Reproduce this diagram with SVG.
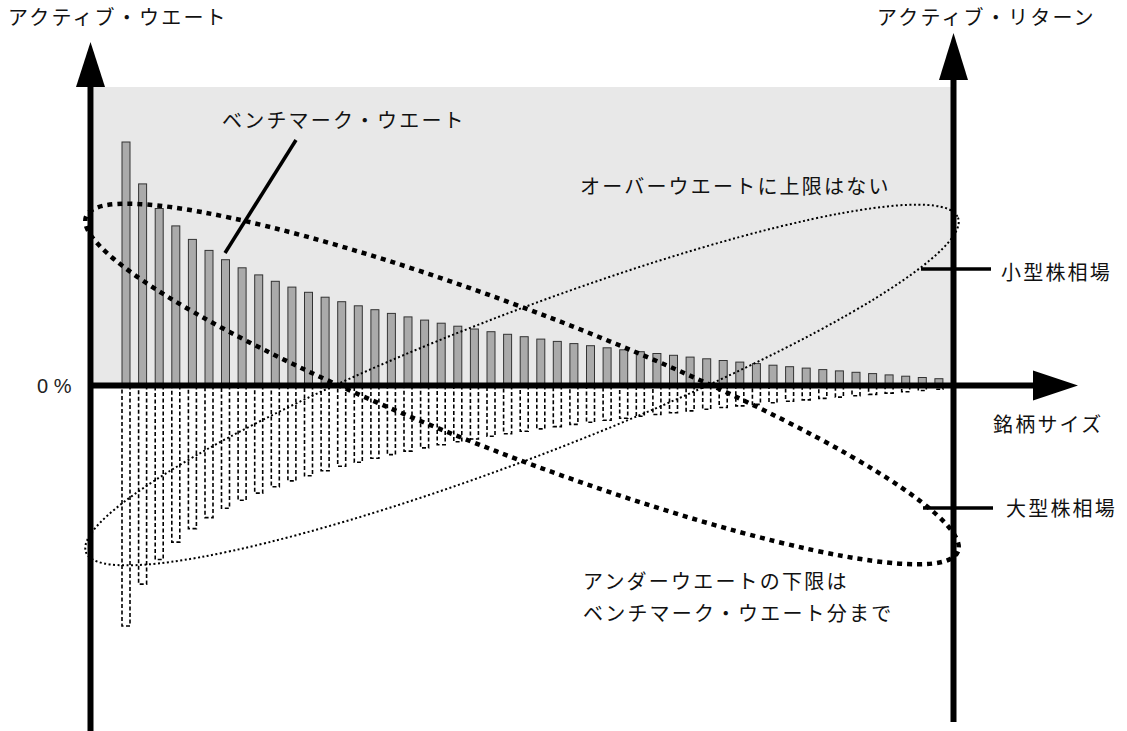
<svg xmlns="http://www.w3.org/2000/svg" width="1127" height="731" viewBox="0 0 1127 731">
<style>
.t{font-family:"Noto Sans CJK JP","Noto Sans",sans-serif;font-size:20px;letter-spacing:2.2px;fill:#111}
.up{fill:#aaa;stroke:#333;stroke-width:1}
.dn{fill:#fff;stroke:#000;stroke-width:1.6;stroke-dasharray:4 2.5}
.ax{stroke:#000;stroke-width:6;fill:none}
.ld{stroke:#000;stroke-width:3.5;fill:none}
.thick{fill:none;stroke:#000;stroke-width:4.5;stroke-dasharray:5 5}
.thin{fill:none;stroke:#000;stroke-width:2;stroke-dasharray:2 2.5}
</style>
<rect width="1127" height="731" fill="#fff"/>
<g id="background"><rect x="94" y="87" width="857" height="297" fill="#e8e8e8"/></g>
<g id="bars-up">
<rect class="up" x="122" y="142" width="8" height="242"/>
<rect class="up" x="138.6" y="183.9" width="8" height="200.1"/>
<rect class="up" x="155.2" y="208.5" width="8" height="175.5"/>
<rect class="up" x="171.8" y="225.9" width="8" height="158.1"/>
<rect class="up" x="188.4" y="239.4" width="8" height="144.6"/>
<rect class="up" x="205" y="250.4" width="8" height="133.6"/>
<rect class="up" x="221.5" y="259.7" width="8" height="124.3"/>
<rect class="up" x="238.1" y="267.8" width="8" height="116.2"/>
<rect class="up" x="254.7" y="274.9" width="8" height="109.1"/>
<rect class="up" x="271.3" y="281.3" width="8" height="102.7"/>
<rect class="up" x="287.9" y="287.1" width="8" height="96.9"/>
<rect class="up" x="304.5" y="292.3" width="8" height="91.7"/>
<rect class="up" x="321.1" y="297.2" width="8" height="86.8"/>
<rect class="up" x="337.7" y="301.7" width="8" height="82.3"/>
<rect class="up" x="354.3" y="305.8" width="8" height="78.2"/>
<rect class="up" x="370.9" y="309.7" width="8" height="74.3"/>
<rect class="up" x="387.4" y="313.4" width="8" height="70.6"/>
<rect class="up" x="404" y="316.9" width="8" height="67.1"/>
<rect class="up" x="420.6" y="320.1" width="8" height="63.9"/>
<rect class="up" x="437.2" y="323.2" width="8" height="60.8"/>
<rect class="up" x="453.8" y="326.2" width="8" height="57.8"/>
<rect class="up" x="470.4" y="329" width="8" height="55"/>
<rect class="up" x="487" y="331.7" width="8" height="52.3"/>
<rect class="up" x="503.6" y="334.3" width="8" height="49.7"/>
<rect class="up" x="520.2" y="336.7" width="8" height="47.3"/>
<rect class="up" x="536.8" y="339.1" width="8" height="44.9"/>
<rect class="up" x="553.3" y="341.4" width="8" height="42.6"/>
<rect class="up" x="569.9" y="343.6" width="8" height="40.4"/>
<rect class="up" x="586.5" y="345.7" width="8" height="38.3"/>
<rect class="up" x="603.1" y="347.8" width="8" height="36.2"/>
<rect class="up" x="619.7" y="349.8" width="8" height="34.2"/>
<rect class="up" x="636.3" y="351.7" width="8" height="32.3"/>
<rect class="up" x="652.9" y="353.5" width="8" height="30.5"/>
<rect class="up" x="669.5" y="355.3" width="8" height="28.7"/>
<rect class="up" x="686.1" y="357.1" width="8" height="26.9"/>
<rect class="up" x="702.7" y="358.8" width="8" height="25.2"/>
<rect class="up" x="719.2" y="360.5" width="8" height="23.5"/>
<rect class="up" x="735.8" y="362.1" width="8" height="21.9"/>
<rect class="up" x="752.4" y="363.6" width="8" height="20.4"/>
<rect class="up" x="769" y="365.2" width="8" height="18.8"/>
<rect class="up" x="785.6" y="366.7" width="8" height="17.3"/>
<rect class="up" x="802.2" y="368.1" width="8" height="15.9"/>
<rect class="up" x="818.8" y="369.6" width="8" height="14.4"/>
<rect class="up" x="835.4" y="370.9" width="8" height="13.1"/>
<rect class="up" x="852" y="372.3" width="8" height="11.7"/>
<rect class="up" x="868.6" y="373.6" width="8" height="10.4"/>
<rect class="up" x="885.1" y="374.9" width="8" height="9.1"/>
<rect class="up" x="901.7" y="376.2" width="8" height="7.8"/>
<rect class="up" x="918.3" y="377.5" width="8" height="6.5"/>
<rect class="up" x="934.9" y="378.7" width="8" height="5.3"/>
</g>
<g id="bars-down">
<rect class="dn" x="122" y="387" width="8" height="239"/>
<rect class="dn" x="138.6" y="387" width="8" height="197.1"/>
<rect class="dn" x="155.2" y="387" width="8" height="172.5"/>
<rect class="dn" x="171.8" y="387" width="8" height="155.1"/>
<rect class="dn" x="188.4" y="387" width="8" height="141.6"/>
<rect class="dn" x="205" y="387" width="8" height="130.6"/>
<rect class="dn" x="221.5" y="387" width="8" height="121.3"/>
<rect class="dn" x="238.1" y="387" width="8" height="113.2"/>
<rect class="dn" x="254.7" y="387" width="8" height="106.1"/>
<rect class="dn" x="271.3" y="387" width="8" height="99.7"/>
<rect class="dn" x="287.9" y="387" width="8" height="93.9"/>
<rect class="dn" x="304.5" y="387" width="8" height="88.7"/>
<rect class="dn" x="321.1" y="387" width="8" height="83.8"/>
<rect class="dn" x="337.7" y="387" width="8" height="79.3"/>
<rect class="dn" x="354.3" y="387" width="8" height="75.2"/>
<rect class="dn" x="370.9" y="387" width="8" height="71.3"/>
<rect class="dn" x="387.4" y="387" width="8" height="67.6"/>
<rect class="dn" x="404" y="387" width="8" height="64.1"/>
<rect class="dn" x="420.6" y="387" width="8" height="60.9"/>
<rect class="dn" x="437.2" y="387" width="8" height="57.8"/>
<rect class="dn" x="453.8" y="387" width="8" height="54.8"/>
<rect class="dn" x="470.4" y="387" width="8" height="52"/>
<rect class="dn" x="487" y="387" width="8" height="49.3"/>
<rect class="dn" x="503.6" y="387" width="8" height="46.7"/>
<rect class="dn" x="520.2" y="387" width="8" height="44.3"/>
<rect class="dn" x="536.8" y="387" width="8" height="41.9"/>
<rect class="dn" x="553.3" y="387" width="8" height="39.6"/>
<rect class="dn" x="569.9" y="387" width="8" height="37.4"/>
<rect class="dn" x="586.5" y="387" width="8" height="35.3"/>
<rect class="dn" x="603.1" y="387" width="8" height="33.2"/>
<rect class="dn" x="619.7" y="387" width="8" height="31.2"/>
<rect class="dn" x="636.3" y="387" width="8" height="29.3"/>
<rect class="dn" x="652.9" y="387" width="8" height="27.5"/>
<rect class="dn" x="669.5" y="387" width="8" height="25.7"/>
<rect class="dn" x="686.1" y="387" width="8" height="23.9"/>
<rect class="dn" x="702.7" y="387" width="8" height="22.2"/>
<rect class="dn" x="719.2" y="387" width="8" height="20.5"/>
<rect class="dn" x="735.8" y="387" width="8" height="18.9"/>
<rect class="dn" x="752.4" y="387" width="8" height="17.4"/>
<rect class="dn" x="769" y="387" width="8" height="15.8"/>
<rect class="dn" x="785.6" y="387" width="8" height="14.3"/>
<rect class="dn" x="802.2" y="387" width="8" height="12.9"/>
<rect class="dn" x="818.8" y="387" width="8" height="11.4"/>
<rect class="dn" x="835.4" y="387" width="8" height="10.1"/>
<rect class="dn" x="852" y="387" width="8" height="8.7"/>
<rect class="dn" x="868.6" y="387" width="8" height="7.4"/>
<rect class="dn" x="885.1" y="387" width="8" height="6.1"/>
<rect class="dn" x="901.7" y="387" width="8" height="4.8"/>
<rect class="dn" x="918.3" y="387" width="8" height="3.5"/>
<rect class="dn" x="934.9" y="387" width="8" height="2.3"/>
</g>
<g id="axes">
<line class="ax" x1="90.5" y1="80" x2="90.5" y2="731"/>
<polygon points="90.5,42 76,87 105,87" fill="#000"/>
<line class="ax" x1="953.5" y1="75" x2="953.5" y2="722"/>
<polygon points="953.5,33 939,80 968,80" fill="#000"/>
<line class="ax" x1="88" y1="385.5" x2="1040" y2="385.5"/>
<polygon points="1078,385.5 1033,370.5 1033,400.5" fill="#000"/>
</g>
<g id="connectors">
<line class="ld" x1="225" y1="253" x2="296" y2="140"/>
<line class="ld" x1="921" y1="269" x2="991" y2="269"/>
<line class="ld" x1="923" y1="508" x2="993" y2="508"/>
</g>
<g id="small-cap-ellipse"><ellipse class="thin" cx="522" cy="385" rx="467" ry="72" transform="rotate(-21 522 385)"/></g>
<g id="large-cap-ellipse"><ellipse class="thick" cx="522" cy="384" rx="467" ry="72" transform="rotate(21 522 384)"/></g>
<g id="labels">
<text class="t" x="8" y="25">アクティブ・ウエート</text>
<text class="t" x="877" y="25">アクティブ・リターン</text>
<text class="t" x="222" y="128">ベンチマーク・ウエート</text>
<text class="t" x="580" y="194">オーバーウエートに上限はない</text>
<text class="t" x="1001" y="280">小型株相場</text>
<text x="37" y="393" font-family="Liberation Sans, Arial, sans-serif" font-size="20" fill="#222">0 %</text>
<text class="t" x="993" y="432">銘柄サイズ</text>
<text class="t" x="1006" y="516">大型株相場</text>
<text class="t" x="583" y="589">アンダーウエートの下限は</text>
<text class="t" x="583" y="621">ベンチマーク・ウエート分まで</text>
</g>
</svg>
